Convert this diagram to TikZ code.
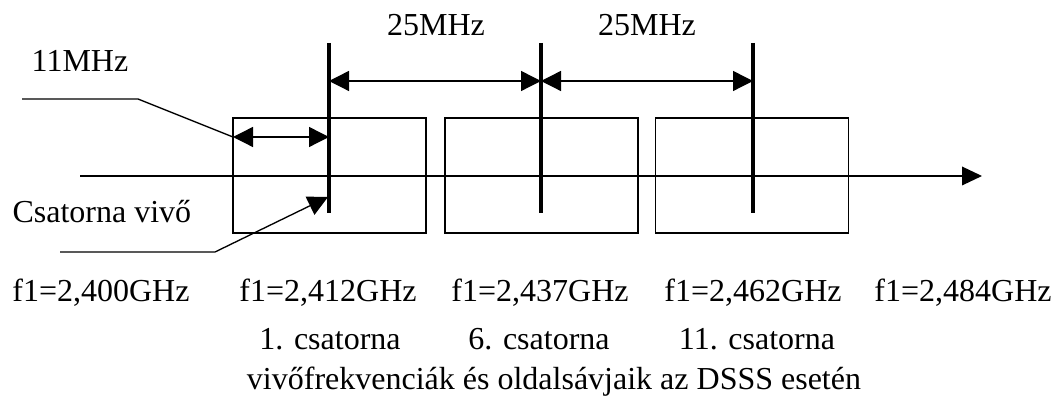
\documentclass[tikz,border=0pt]{standalone}
\usepackage{fontspec}
\setmainfont{Liberation Serif}
\usetikzlibrary{arrows.meta, positioning}

\begin{document}
\begin{tikzpicture}[x=0.375pt, y=-0.375pt,
    chbox/.style={draw, line width=0.6pt, minimum width=72.4pt, minimum height=43.1pt, inner sep=0pt, outer sep=0pt},
    carrier/.style={line width=1.6pt},
    dim/.style={line width=0.5pt, {Triangle[length=7.5pt,width=7.5pt]}-{Triangle[length=7.5pt,width=7.5pt]}},
    pointer/.style={line width=0.5pt, -{Triangle[length=7.5pt,width=7.5pt]}},
    lbl/.style={font=\fontsize{12}{14}\selectfont, inner sep=0pt, anchor=base}]
    \useasboundingbox (0,0) rectangle (1059,404);

    % Channel bands
    \node[chbox] (box1) at (329.5,175.5) {};
    \node[chbox] (box2) at (541.5,175.5) {};
    \node[chbox] (box3) at (752,175.5) {};

    % Frequency axis
    \coordinate (axstart) at (80,176);
    \coordinate (axend) at (982,176);
    \draw[line width=0.5pt, -{Triangle[length=7.5pt,width=7pt]}] (axstart) -- (axend);

    % Carriers
    \coordinate (c1top) at (329,43);  \coordinate (c1bot) at (329,213);
    \coordinate (c2top) at (541,43);  \coordinate (c2bot) at (541,213);
    \coordinate (c3top) at (753,43);  \coordinate (c3bot) at (753,213);
    \draw[carrier] (c1top) -- (c1bot);
    \draw[carrier] (c2top) -- (c2bot);
    \draw[carrier] (c3top) -- (c3bot);

    % Channel spacing
    \coordinate (s1) at (329,81);
    \coordinate (s2) at (541,81);
    \coordinate (s3) at (753,81);
    \draw[dim] (s1) -- (s2);
    \draw[dim] (s2) -- (s3);
    \node[lbl] (sp1) at (436,36) {25MHz};
    \node[lbl] (sp2) at (647,36) {25MHz};

    % Half bandwidth
    \coordinate (hbl) at (233,137);
    \coordinate (hbr) at (329,137);
    \draw[dim] (hbl) -- (hbr);
    \node[lbl] (hb) at (80,72) {11MHz};
    \draw[line width=0.5pt] (22,99) -- (138,99) -- (hbl);

    % Carrier pointer
    \node[lbl, anchor=base west] (cv) at (12,223) {Csatorna vivő};
    \coordinate (cvtip) at (328,197);
    \draw[pointer] (60,252) -- (215,252) -- (cvtip);

    % Frequencies
    \node[lbl] (f0) at (101,302) {f1=2,400GHz};
    \node[lbl] (f1) at (328,302) {f1=2,412GHz};
    \node[lbl] (f6) at (540,302) {f1=2,437GHz};
    \node[lbl] (f11) at (753,302) {f1=2,462GHz};
    \node[lbl] (fend) at (963,302) {f1=2,484GHz};

    % Channel numbers
    \node[lbl] (ch1) at (330,350) {1. csatorna};
    \node[lbl] (ch6) at (539,350) {6. csatorna};
    \node[lbl] (ch11) at (757,350) {11. csatorna};
    \node[lbl] (cap) at (554,390) {vivőfrekvenciák és oldalsávjaik az DSSS esetén};
\end{tikzpicture}
\end{document}
